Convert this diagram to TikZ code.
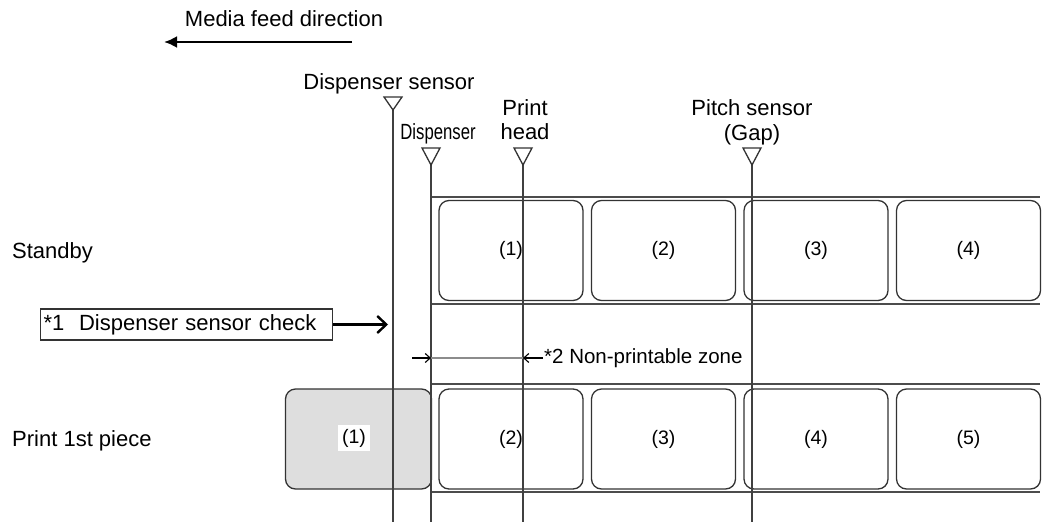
\documentclass[tikz,border=0pt]{standalone}
\usepackage{fontspec}
\setmainfont{Liberation Sans}
\usetikzlibrary{arrows.meta}
\begin{document}
\begin{tikzpicture}[x=1pt,y=-1pt,
  txt/.style={font=\fontsize{22}{24}\selectfont, inner sep=0pt},
  num/.style={font=\fontsize{19.5}{22}\selectfont, inner sep=0pt},
  lbl/.style={draw=black!80, line width=1.3pt, rounded corners=10pt, minimum width=144pt, minimum height=100pt, inner sep=0pt, font=\fontsize{19.5}{22}\selectfont},
  marker/.style={draw=black!80, line width=1.3pt, fill=white},
  vline/.style={draw=black!75, line width=1.5pt},
  strip/.style={draw=black!70, line width=1.7pt}]
\useasboundingbox (0,0) rectangle (1043,522);

% media feed direction
\node[txt, anchor=base] (mfd) at (284,27) {Media feed direction};
\coordinate (mfdR) at (352,42);
\coordinate (mfdL) at (164,42);
\draw[line width=2.4pt, -{Latex[length=13pt,width=12pt]}] (mfdR) -- (mfdL);

% row labels
\node[txt, anchor=base west] (standby) at (12,258) {Standby};
\node[txt, anchor=base west] (print1) at (12,446) {Print 1st piece};

% standby strip
\coordinate (s1a) at (431,197); \coordinate (s1b) at (1040,197);
\coordinate (s2a) at (431,304); \coordinate (s2b) at (1040,304);
\draw[strip] (s1a) -- (s1b);
\draw[strip] (s2a) -- (s2b);
\node[lbl] (sa) at (511,250.5) {(1)};
\node[lbl] (sb) at (663.5,250.5) {(2)};
\node[lbl] (sc) at (816,250.5) {(3)};
\node[lbl] (sd) at (968.5,250.5) {(4)};

% print strip
\coordinate (p1a) at (431,384); \coordinate (p1b) at (1040,384);
\coordinate (p2a) at (431,492); \coordinate (p2b) at (1040,492);
\draw[strip] (p1a) -- (p1b);
\draw[strip] (p2a) -- (p2b);
\node[lbl, fill=black!13, minimum width=146pt] (pa) at (358.5,439) {};
\node[num, fill=white, inner sep=4pt] (patxt) at (354,438) {(1)};
\node[lbl] (pb) at (511,439) {(2)};
\node[lbl] (pc) at (663.5,439) {(3)};
\node[lbl] (pd) at (816,439) {(4)};
\node[lbl] (pe) at (968.5,439) {(5)};

% sensor labels
\node[txt, anchor=base] (dsl) at (389,89) {Dispenser sensor};
\node[txt, anchor=base, xscale=0.76] (dl) at (438,139) {Dispenser};
\node[txt, anchor=base] (phl1) at (525,115) {Print};
\node[txt, anchor=base] (phl2) at (525,139) {head};
\node[txt, anchor=base] (psl1) at (752,115) {Pitch sensor};
\node[txt, anchor=base] (psl2) at (752,140) {(Gap)};

% vertical lines
\coordinate (dsT) at (393,110); \coordinate (dsB) at (393,522);
\coordinate (dT) at (431,165);  \coordinate (dB) at (431,522);
\coordinate (phT) at (523,165); \coordinate (phB) at (523,522);
\coordinate (psT) at (752,165); \coordinate (psB) at (752,522);
\draw[vline] (dsT) -- (dsB);
\draw[vline] (dT) -- (dB);
\draw[vline] (phT) -- (phB);
\draw[vline] (psT) -- (psB);

% triangles
\draw[marker] (384,97) -- (402,97) -- (dsT) -- cycle;
\draw[marker] (422,148) -- (440,148) -- (dT) -- cycle;
\draw[marker] (514,148) -- (532,148) -- (phT) -- cycle;
\draw[marker] (743,148) -- (761,148) -- (psT) -- cycle;

% dispenser sensor check
\node[draw=black!80, line width=1.3pt, anchor=west, minimum height=31pt, text width=286pt, inner xsep=3pt, inner ysep=0pt, align=left, font=\fontsize{22}{24}\selectfont] (chk) at (40,324.5) {*1\ \ Dispenser sensor check};
\coordinate (chkT) at (388,324.5);
\draw[line width=2.4pt, -{Straight Barb[length=9pt,width=17pt]}] (chk.east) -- (chkT);

% non-printable zone
\coordinate (npL) at (431,358); \coordinate (npR) at (523,358);
\coordinate (npL0) at (412,358); \coordinate (npR0) at (543,358);
\draw[black!45, line width=1.4pt] (npL) -- (npR);
\draw[line width=1.1pt, -{Straight Barb[length=5pt,width=9pt]}] (npL0) -- (npL);
\draw[line width=1.1pt, -{Straight Barb[length=5pt,width=9pt]}] (npR0) -- (npR);
\node[txt, anchor=base west, font=\fontsize{20.5}{24}\selectfont] (npz) at (544,363) {*2 Non-printable zone};
\end{tikzpicture}
\end{document}
